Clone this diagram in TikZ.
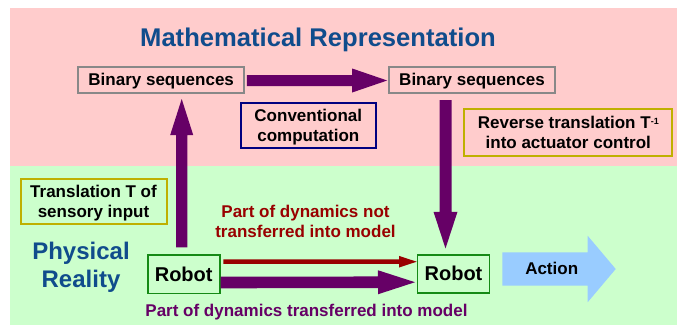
\documentclass[tikz,border=0pt]{standalone}
\usepackage{fontspec}
\setmainfont{Liberation Sans}
\usetikzlibrary{calc}

\definecolor{pinkbg}{HTML}{FFCCCC}
\definecolor{greenbg}{HTML}{CCFFCC}
\definecolor{plum}{HTML}{660066}
\definecolor{darkred}{HTML}{990000}
\definecolor{titleblue}{HTML}{104C8C}
\definecolor{boxgray}{HTML}{888888}
\definecolor{navyline}{HTML}{000080}
\definecolor{oliveline}{HTML}{BFB000}
\definecolor{boxgreen}{HTML}{158A15}
\definecolor{actionblue}{HTML}{99CCFF}

% two centred lines whose box runs from the first cap line to the last baseline
\newcommand\twoln[2]{\vbox{\halign{\hfil##\hfil\cr#1\cr#2\cr}}}

% block arrow: style, from, to, shaft half-width, head half-width, head length
\newcommand\fatarrow[6]{%
  \coordinate (fa-h) at ($(#3)!#6!(#2)$);
  \fill[#1] ($(#2)!#4!90:(#3)$) -- ($(fa-h)!#4!90:(#3)$) -- ($(fa-h)!#5!90:(#3)$)
    -- (#3) -- ($(fa-h)!#5!-90:(#3)$) -- ($(fa-h)!#4!-90:(#3)$)
    -- ($(#2)!#4!-90:(#3)$) -- cycle;
}

\tikzset{
  every node/.style={inner sep=0pt, outer sep=0pt},
  txt/.style={font=\fontsize{17}{20}\selectfont\bfseries},
  oneline/.style={txt, text height=11.9pt, text depth=0pt},
  twolines/.style={txt, text height=31.9pt, text depth=0pt},
  graybox/.style={oneline, draw=boxgray, line width=2pt, minimum width=165.7pt, minimum height=26pt},
  navybox/.style={twolines, draw=navyline, line width=2pt},
  olivebox/.style={twolines, draw=oliveline, line width=2pt},
  robotbox/.style={font=\fontsize{20}{24}\selectfont\bfseries, text height=14pt, text depth=0pt,
    draw=boxgreen, line width=1.8pt, minimum width=72pt, minimum height=38.5pt},
  heading/.style={font=\fontsize{25.6}{30}\selectfont\bfseries, text=titleblue},
}

\begin{document}
\begin{tikzpicture}[x=1pt, y=-1pt]
\useasboundingbox (0,0) rectangle (677,327);
\fill[white] (0,0) rectangle (677,327);
\fill[pinkbg] (10,8) rectangle (677,166);
\fill[greenbg] (10,166) rectangle (677,325);

% upper band: the model
\node[heading, anchor=base] (title) at (318,46.7) {Mathematical Representation};
\node[graybox] (b1) at (161.2,79.5) {Binary sequences};
\node[graybox] (b2) at (472,79.5) {Binary sequences};
\node[navybox, minimum width=134.7pt, minimum height=45pt] (conv) at (308.3,125.8)
  {\twoln{Conventional}{computation}};
\node[olivebox, minimum width=208pt, minimum height=46.5pt] (rev) at (568.3,132.7)
  {\twoln{Reverse translation T\raisebox{4.5pt}{\fontsize{9}{9}\selectfont -1}}{into actuator control}};

% lower band: the physical world
\node[olivebox, minimum width=146pt, minimum height=45pt] (trans) at (93.5,201.5)
  {\twoln{Translation T of}{sensory input}};
\node[font=\fontsize{24}{28}\selectfont\bfseries, text=titleblue,
  text height=44.8pt, text depth=0pt] (phys) at (81,264.9) {\twoln{Physical}{Reality}};
\node[robotbox] (r1) at (183.7,274.2) {Robot};
\node[robotbox] (r2) at (453.5,273.9) {Robot};

\node[twolines, text=darkred] (lost) at (305.5,221.8)
  {\twoln{Part of dynamics not}{transferred into model}};
\node[txt, text=plum, anchor=base] (kept) at (306.5,316.5)
  {Part of dynamics transferred into model};

% connectors
\coordinate (hs) at ($(b1.east)+(2.7,1)$);
\coordinate (he) at ($(b2.west)+(-2,1)$);
\fatarrow{plum}{hs}{he}{5.5pt}{12pt}{35pt}

\coordinate (us) at ($(r1.north)+(-2,-7.6)$);
\coordinate (ue) at ($(b1.south)+(20.5,6.5)$);
\fatarrow{plum}{us}{ue}{5.7pt}{11.5pt}{36pt}

\coordinate (ds) at ($(b2.south)+(-26.5,7.5)$);
\coordinate (de) at ($(r2.north)+(-8,-6.2)$);
\fatarrow{plum}{ds}{de}{6pt}{12pt}{36.7pt}

\coordinate (rs) at ($(r1.east)+(3.6,-12.5)$);
\coordinate (re) at ($(r2.west)+(-0.8,-12.2)$);
\fatarrow{darkred}{rs}{re}{2.25pt}{5.8pt}{17.7pt}

\coordinate (ps) at ($(r1.east)+(1,8.3)$);
\coordinate (pe) at ($(r2.west)+(-2.5,8.3)$);
\fatarrow{plum}{ps}{pe}{5.8pt}{12pt}{37pt}

\coordinate (as) at ($(r2.east)+(12.8,-4.9)$);
\coordinate (ae) at ($(r2.east)+(126.2,-4.9)$);
\fatarrow{actionblue}{as}{ae}{16.7pt}{33.2pt}{28pt}
\node[oneline] (action) at (551.7,269) {Action};
\end{tikzpicture}
\end{document}
